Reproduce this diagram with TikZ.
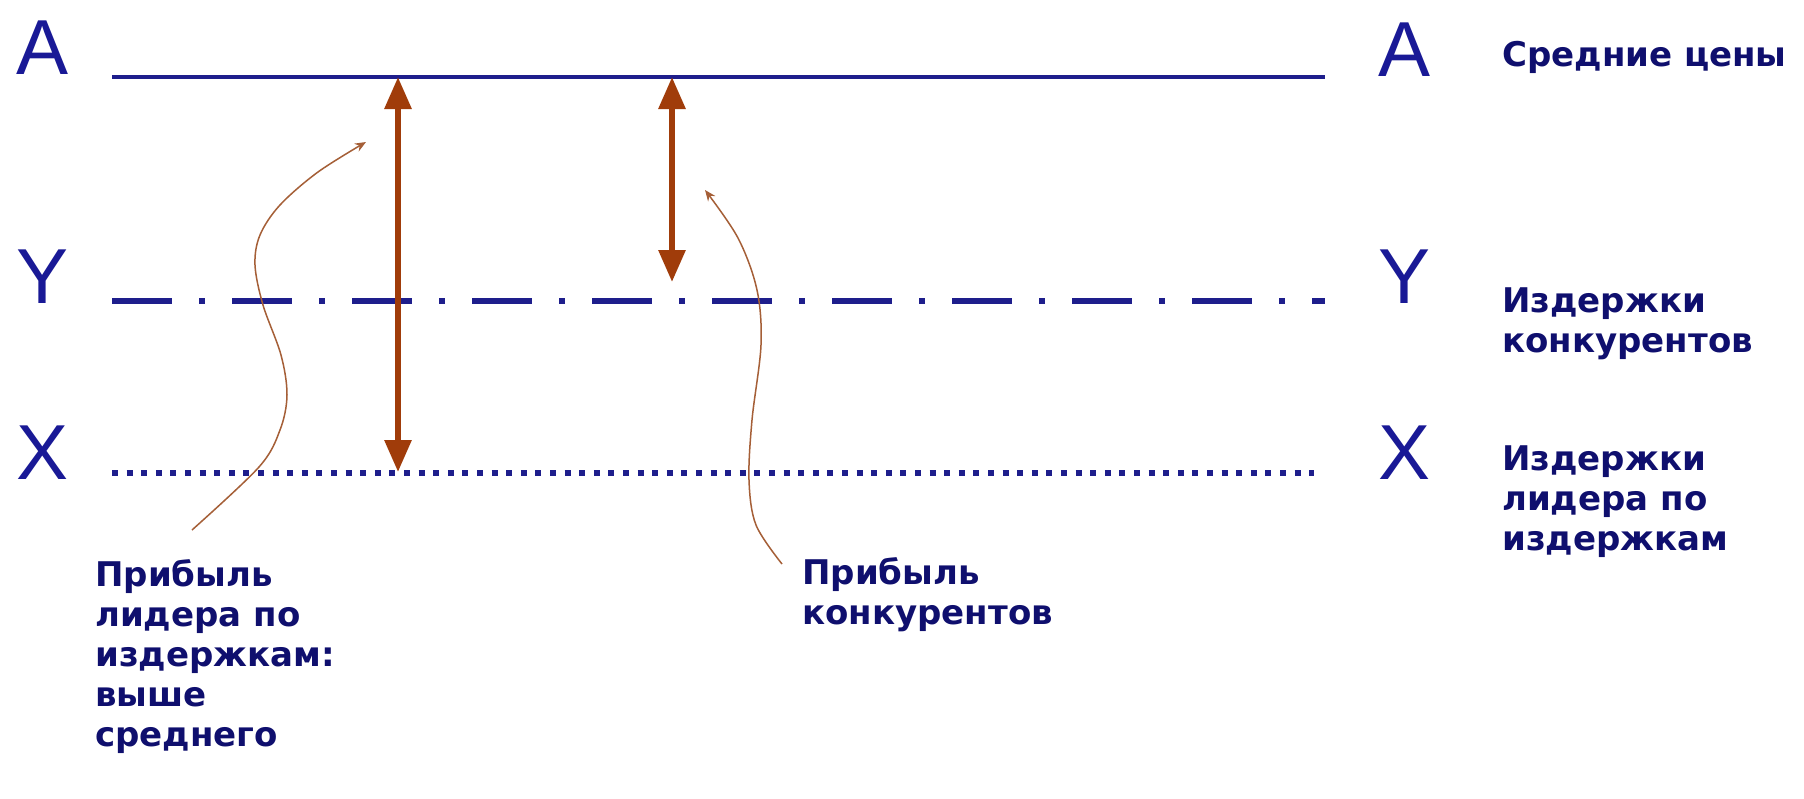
\documentclass[tikz,border=0pt]{standalone}
\usepackage{fontspec}
\setmainfont{Liberation Sans}
\newfontfamily\lblfont{DejaVu Sans}
\usetikzlibrary{arrows.meta}
\definecolor{lineblue}{RGB}{30,30,140}
\definecolor{letterblue}{RGB}{25,25,150}
\definecolor{textblue}{RGB}{15,15,110}
\definecolor{arrowbrown}{RGB}{160,60,10}
\definecolor{thinbrown}{RGB}{165,95,55}
\begin{document}
\begin{tikzpicture}[x=1pt,y=-1pt,
  letter/.style={inner sep=0pt, anchor=base west, text=letterblue, font=\fontsize{78}{78}\selectfont},
  lbl/.style={inner sep=0pt, anchor=base west, align=left, text=textblue, font=\lblfont\bfseries\fontsize{34}{40}\selectfont},
  priceline/.style={draw=lineblue, line width=4.5pt},
  compline/.style={draw=lineblue, line width=6.5pt, dash pattern=on 60pt off 27pt on 6pt off 27pt},
  leadline/.style={draw=lineblue, line width=5.5pt, dash pattern=on 6pt off 8.6pt},
  gaparrow/.style={draw=arrowbrown, line width=6pt, {Triangle[width=26pt,length=32pt]}-{Triangle[width=26pt,length=32pt]}},
  pointer/.style={draw=thinbrown, line width=1.5pt, -{Stealth[width=9pt,length=11pt]}}
]
\useasboundingbox[fill=white] (0,0) rectangle (1804,798);

% letters
\node[letter] (aL) at (16,74) {A};
\node[letter] (yL) at (16,303) {Y};
\node[letter] (xL) at (16,479) {X};
\node[letter] (aR) at (1378,76) {A};
\node[letter] (yR) at (1378,303) {Y};
\node[letter] (xR) at (1378,479) {X};

% line endpoints
\coordinate (a1) at (112,77);
\coordinate (a2) at (1325,77);
\coordinate (y1) at (112,301);
\coordinate (y2) at (1325,301);
\coordinate (x1) at (112,473);
\coordinate (x2) at (1314,473);

\draw[priceline] (a1) -- (a2);
\draw[compline] (y1) -- (y2);
\draw[leadline] (x1) -- (x2);

% gap arrows
\coordinate (b1) at (398,77);
\coordinate (b2) at (398,472);
\coordinate (s1) at (672,77);
\coordinate (s2) at (672,282);
\draw[gaparrow] (b1) -- (b2);
\draw[gaparrow] (s1) -- (s2);

% labels right (base anchor = baseline of last line)
\node[lbl] (lprice) at (1502,66) {Средние цены};
\node[lbl] (lcomp) at (1502,352) {Издержки\\конкурентов};
\node[lbl] (llead) at (1502,550) {Издержки\\лидера по\\издержкам};

% labels bottom
\node[lbl] (pl) at (95,746) {Прибыль\\лидера по\\издержкам:\\выше\\среднего};
\node[lbl] (pc) at (802,624) {Прибыль\\конкурентов};

% pointers
\coordinate (p1s) at (192,530);
\coordinate (p1e) at (366,142);
\coordinate (p2s) at (782,564);
\coordinate (p2e) at (705,190);
\draw[pointer] plot[smooth, tension=0.55] coordinates {(p1s) (259,467) (280,430) (287,395) (281,355) (263,305) (255,265) (260,235) (280,205) (318,172) (p1e)};
\draw[pointer] plot[smooth, tension=0.55] coordinates {(p2s) (756,525) (749,480) (752,420) (761,345) (757,290) (738,238) (p2e)};
\end{tikzpicture}
\end{document}
